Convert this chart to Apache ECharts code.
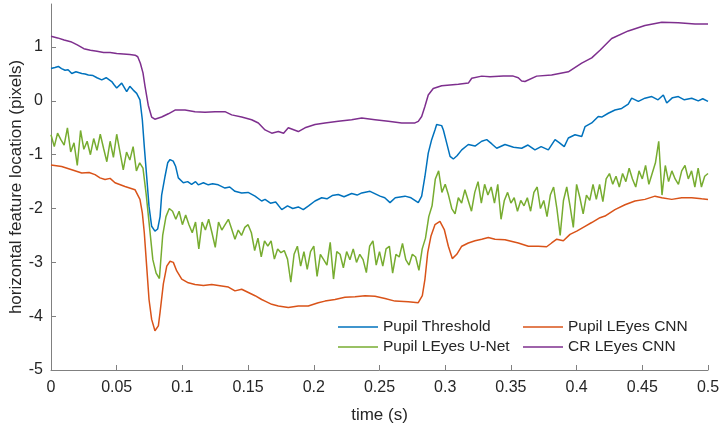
<!DOCTYPE html>
<html>
<head>
<meta charset="utf-8">
<script src="https://cdn.jsdelivr.net/npm/echarts@6/dist/echarts.min.js"></script>
<style>
    html, body { margin: 0; background: #fff; }
    #chart { width: 721px; height: 427px; }
</style>
</head>
<body>
<div id="chart"></div>
<script>
// series names / legend
var names = ['Pupil Threshold', 'Pupil LEyes CNN', 'Pupil LEyes U-Net', 'CR LEyes CNN'];
var colors = ['#0072BD', '#D95319', '#77AC30', '#7E2F8E'];
var xTicks = [0, 0.05, 0.1, 0.15, 0.2, 0.25, 0.3, 0.35, 0.4, 0.45, 0.5];
var yTicks = [-5, -4, -3, -2, -1, 0, 1];

// Pupil Threshold
var thresholdTime = [0, 0.003, 0.0056, 0.008, 0.0107, 0.013, 0.0158, 0.019, 0.0234, 0.026, 0.0284, 0.032, 0.035, 0.0386, 0.042, 0.0462, 0.048, 0.05, 0.0538, 0.0576, 0.06, 0.0626, 0.0652, 0.0677, 0.0695, 0.071, 0.0728, 0.0746, 0.0766, 0.0791, 0.0812, 0.083, 0.0842, 0.0868, 0.0888, 0.0906, 0.093, 0.0949, 0.0969, 0.1007, 0.104, 0.107, 0.11, 0.1121, 0.116, 0.1197, 0.123, 0.1273, 0.1324, 0.136, 0.14, 0.1451, 0.15, 0.1553, 0.1603, 0.1629, 0.167, 0.171, 0.1756, 0.18, 0.184, 0.1882, 0.192, 0.196, 0.2009, 0.206, 0.21, 0.214, 0.2186, 0.223, 0.2288, 0.233, 0.2365, 0.2428, 0.2504, 0.254, 0.258, 0.262, 0.2694, 0.274, 0.2795, 0.2821, 0.2846, 0.2871, 0.2897, 0.2922, 0.2935, 0.2973, 0.2986, 0.3011, 0.3037, 0.3062, 0.309, 0.3126, 0.3176, 0.3227, 0.3278, 0.3316, 0.3355, 0.3392, 0.3455, 0.352, 0.3582, 0.363, 0.3683, 0.373, 0.3785, 0.3836, 0.387, 0.3906, 0.3937, 0.3988, 0.4039, 0.4064, 0.4115, 0.4165, 0.4191, 0.4241, 0.4292, 0.4343, 0.4393, 0.4419, 0.447, 0.452, 0.4572, 0.462, 0.466, 0.4686, 0.473, 0.4774, 0.482, 0.4876, 0.4926, 0.496, 0.5];
var thresholdValue = [0.6, 0.62, 0.64, 0.6, 0.57, 0.58, 0.51, 0.54, 0.51, 0.5, 0.48, 0.47, 0.43, 0.39, 0.43, 0.36, 0.3, 0.24, 0.33, 0.17, 0.27, 0.2, 0.14, 0.02, -0.35, -0.85, -1.4, -1.96, -2.33, -2.42, -2.38, -2.15, -1.75, -1.4, -1.15, -1.09, -1.12, -1.22, -1.43, -1.52, -1.5, -1.55, -1.5, -1.56, -1.52, -1.56, -1.54, -1.56, -1.62, -1.6, -1.68, -1.71, -1.7, -1.77, -1.86, -1.83, -1.9, -1.88, -2.02, -1.95, -2.0, -1.97, -2.02, -1.95, -1.86, -1.8, -1.82, -1.76, -1.74, -1.78, -1.72, -1.75, -1.71, -1.68, -1.77, -1.8, -1.89, -1.8, -1.77, -1.8, -1.89, -1.77, -1.4, -0.97, -0.72, -0.54, -0.44, -0.46, -0.54, -0.78, -1.03, -1.08, -1.02, -0.91, -0.81, -0.84, -0.75, -0.72, -0.8, -0.88, -0.81, -0.86, -0.88, -0.82, -0.91, -0.85, -0.91, -0.72, -0.78, -0.85, -0.69, -0.63, -0.66, -0.48, -0.41, -0.29, -0.3, -0.23, -0.17, -0.14, -0.06, 0.05, -0.01, 0.05, 0.08, 0.02, 0.11, -0.04, 0.06, 0.08, 0.02, 0.05, 0, 0.04, -0.01];

// Pupil LEyes CNN
var cnnTime = [0, 0.0081, 0.0158, 0.0234, 0.029, 0.0335, 0.0373, 0.0411, 0.045, 0.0487, 0.0563, 0.0639, 0.0677, 0.0695, 0.071, 0.0728, 0.0746, 0.0766, 0.0791, 0.0817, 0.083, 0.0855, 0.0881, 0.0906, 0.0931, 0.0957, 0.0995, 0.1045, 0.1096, 0.116, 0.1223, 0.1299, 0.135, 0.14, 0.1451, 0.1502, 0.1553, 0.1603, 0.1629, 0.168, 0.173, 0.1806, 0.1882, 0.1958, 0.2034, 0.2085, 0.2161, 0.2237, 0.2314, 0.239, 0.2466, 0.2542, 0.2618, 0.2719, 0.2795, 0.2826, 0.2846, 0.2867, 0.2892, 0.2922, 0.296, 0.2993, 0.3024, 0.3054, 0.3088, 0.3126, 0.3176, 0.3227, 0.3278, 0.3328, 0.3379, 0.3455, 0.3556, 0.3633, 0.3709, 0.3772, 0.381, 0.3849, 0.3899, 0.395, 0.4001, 0.4064, 0.4115, 0.4178, 0.4216, 0.4292, 0.4368, 0.4444, 0.452, 0.4597, 0.4648, 0.4724, 0.48, 0.4876, 0.4952, 0.5];
var cnnValue = [-1.19, -1.22, -1.28, -1.34, -1.33, -1.37, -1.43, -1.46, -1.44, -1.52, -1.59, -1.65, -1.83, -2.08, -2.45, -3.07, -3.69, -4.06, -4.27, -4.18, -3.93, -3.4, -3.07, -2.98, -3.0, -3.16, -3.31, -3.38, -3.41, -3.43, -3.41, -3.44, -3.46, -3.53, -3.5, -3.56, -3.62, -3.69, -3.72, -3.78, -3.81, -3.84, -3.81, -3.81, -3.75, -3.72, -3.69, -3.65, -3.64, -3.62, -3.63, -3.67, -3.72, -3.73, -3.75, -3.62, -3.31, -2.82, -2.51, -2.3, -2.24, -2.39, -2.7, -2.93, -2.85, -2.7, -2.64, -2.6, -2.57, -2.54, -2.57, -2.58, -2.64, -2.7, -2.7, -2.71, -2.64, -2.57, -2.6, -2.48, -2.42, -2.33, -2.26, -2.17, -2.14, -2.02, -1.93, -1.86, -1.83, -1.77, -1.8, -1.83, -1.8, -1.8, -1.82, -1.83];

// Pupil LEyes U-Net, one sample every 2.5 ms
var unetStep = 0.0025;
var unetValue = [
    -0.63, -0.85, -0.6, -0.72, -0.82, -0.5, -0.95, -0.78, -1.2, -0.55,
    -0.9, -0.75, -1.0, -0.7, -0.92, -0.62, -0.88, -1.13, -0.75, -1.05,
    -0.62, -0.95, -1.28, -0.95, -1.1, -0.85, -1.3, -1.15, -1.25, -1.75,
    -2.35, -2.95, -3.2, -3.3, -2.5, -2.15, -2.0, -2.05, -2.2, -2.05,
    -2.3, -2.12, -2.3, -2.45, -2.25, -2.75, -2.25, -2.4, -2.2, -2.45,
    -2.72, -2.25, -2.4, -2.3, -2.2, -2.38, -2.57, -2.4, -2.5, -2.35,
    -2.3, -2.45, -2.78, -2.55, -2.9, -2.6, -2.7, -2.6, -2.94, -2.75,
    -2.82, -2.78, -2.94, -3.37, -2.85, -2.7, -3.07, -2.8, -3.13, -2.8,
    -2.7, -3.26, -2.85, -2.95, -3.05, -2.63, -3.31, -2.8, -2.85, -3.1,
    -2.8, -2.95, -2.75, -3.0, -2.85, -2.95, -3.19, -2.7, -2.6, -3.05,
    -2.8, -3.07, -2.75, -2.7, -3.2, -2.85, -2.9, -2.65, -2.95, -3.05,
    -2.85, -2.9, -3.15, -2.75, -2.55, -2.15, -1.95, -1.45, -1.3, -1.7,
    -1.55, -1.75, -2.0, -2.1, -1.8, -1.9, -1.65, -1.85, -2.05, -1.7,
    -1.5, -1.9, -1.55, -1.75, -1.6, -1.9, -1.55, -2.2, -1.85, -1.7,
    -1.9, -1.8, -2.05, -1.85, -1.95, -1.8, -2.05, -1.7, -1.6, -2.0,
    -1.85, -2.15, -1.75, -1.6, -2.0, -2.5, -1.85, -1.6, -1.95, -2.35,
    -1.55, -1.8, -2.1, -1.75, -1.85, -1.55, -1.83, -1.55, -1.87, -1.45,
    -1.35, -1.55, -1.4, -1.6, -1.35, -1.5, -1.25, -1.45, -1.6, -1.3,
    -1.45, -1.2, -1.55, -1.35, -1.15, -0.75, -1.75, -1.2, -1.5, -1.3,
    -1.45, -1.55, -1.3, -1.2, -1.45, -1.3, -1.6, -1.25, -1.6, -1.4,
    -1.35
];

// CR LEyes CNN
var crTime = [0, 0.005, 0.01, 0.015, 0.02, 0.025, 0.03, 0.035, 0.04, 0.045, 0.05, 0.055, 0.06, 0.064, 0.066, 0.068, 0.07, 0.0715, 0.074, 0.0766, 0.079, 0.0842, 0.0893, 0.0944, 0.102, 0.1096, 0.1172, 0.1248, 0.1324, 0.1375, 0.1451, 0.1527, 0.1578, 0.1629, 0.168, 0.173, 0.177, 0.1806, 0.1882, 0.1933, 0.2009, 0.2085, 0.2186, 0.2288, 0.2365, 0.2466, 0.2567, 0.2669, 0.277, 0.2795, 0.2821, 0.2846, 0.2871, 0.2909, 0.2973, 0.31, 0.3176, 0.3202, 0.3278, 0.3341, 0.3442, 0.3518, 0.3556, 0.3582, 0.3607, 0.3696, 0.381, 0.3937, 0.4039, 0.4115, 0.4178, 0.4267, 0.4393, 0.452, 0.4648, 0.4774, 0.4901, 0.5];
var crValue = [1.2, 1.17, 1.13, 1.1, 1.04, 0.97, 0.94, 0.92, 0.9, 0.9, 0.88, 0.87, 0.86, 0.85, 0.82, 0.7, 0.52, 0.28, -0.08, -0.3, -0.34, -0.3, -0.24, -0.17, -0.17, -0.2, -0.21, -0.2, -0.2, -0.26, -0.3, -0.35, -0.41, -0.54, -0.6, -0.57, -0.6, -0.5, -0.57, -0.5, -0.44, -0.41, -0.38, -0.35, -0.32, -0.35, -0.38, -0.41, -0.41, -0.38, -0.29, -0.1, 0.11, 0.23, 0.28, 0.31, 0.33, 0.42, 0.46, 0.45, 0.46, 0.46, 0.43, 0.37, 0.36, 0.46, 0.48, 0.54, 0.7, 0.8, 0.94, 1.16, 1.3, 1.4, 1.46, 1.45, 1.43, 1.43];

function zip(t, v) {
    var out = [];
    for (var i = 0; i < v.length; i++) out.push([t[i], v[i]]);
    return out;
}

var unetTime = [];
for (var i = 0; i < unetValue.length; i++) unetTime.push(+(i * unetStep).toFixed(4));

var seriesData = [
    zip(thresholdTime, thresholdValue),
    zip(cnnTime, cnnValue),
    zip(unetTime, unetValue),
    zip(crTime, crValue)
];

var textColor = '#262626';
var axisColor = '#808080';
var font = 'Liberation Sans';

var legendBase = {
    orient: 'vertical',
    top: 319,
    padding: 0,
    icon: 'rect',
    itemWidth: 40, itemHeight: 1.5, itemGap: 4,
    textStyle: { color: textColor, fontSize: 15.5, fontFamily: font, lineHeight: 16 }
};

var myChart = echarts.init(document.getElementById('chart'));
var option = {
    animation: false,
    backgroundColor: '#fff',
    grid: { left: 51, right: 13, top: 4, bottom: 57, containLabel: false, outerBoundsMode: 'none' },
    legend: [
        Object.assign({}, legendBase, { left: 338, data: [names[0], names[2]] }),
        Object.assign({}, legendBase, { left: 523, data: [names[1], names[3]] })
    ],
    xAxis: {
        type: 'value',
        min: 0, max: 0.5, interval: 0.05,
        name: 'time (s)',
        nameLocation: 'middle',
        nameGap: 37,
        nameMoveOverlap: false,
        nameTextStyle: { color: textColor, fontSize: 17, fontFamily: font },
        axisLine: { onZero: false, lineStyle: { color: axisColor, width: 1 } },
        axisTick: { inside: true, length: 5, lineStyle: { color: axisColor } },
        axisLabel: {
            color: textColor, fontSize: 16, fontFamily: font, margin: 10,
            customValues: xTicks
        },
        splitLine: { show: false }
    },
    yAxis: {
        type: 'value',
        min: -5, max: 1.8, interval: 1,
        name: 'horizontal feature location (pixels)',
        nameLocation: 'middle',
        nameGap: 26,
        nameMoveOverlap: false,
        nameTextStyle: { color: textColor, fontSize: 17, fontFamily: font },
        axisLine: { show: true, onZero: false, lineStyle: { color: axisColor, width: 1 } },
        axisTick: { show: true, inside: true, length: 5, lineStyle: { color: axisColor }, customValues: yTicks },
        axisLabel: { color: textColor, fontSize: 16, fontFamily: font, margin: 8, customValues: yTicks },
        splitLine: { show: false }
    },
    series: names.map(function (n, k) {
        return {
            name: n,
            type: 'line',
            data: seriesData[k],
            symbol: 'none',
            color: colors[k],
            lineStyle: { width: 1.5, color: colors[k] }
        };
    })
};
myChart.setOption(option);
</script>
</body>
</html>
